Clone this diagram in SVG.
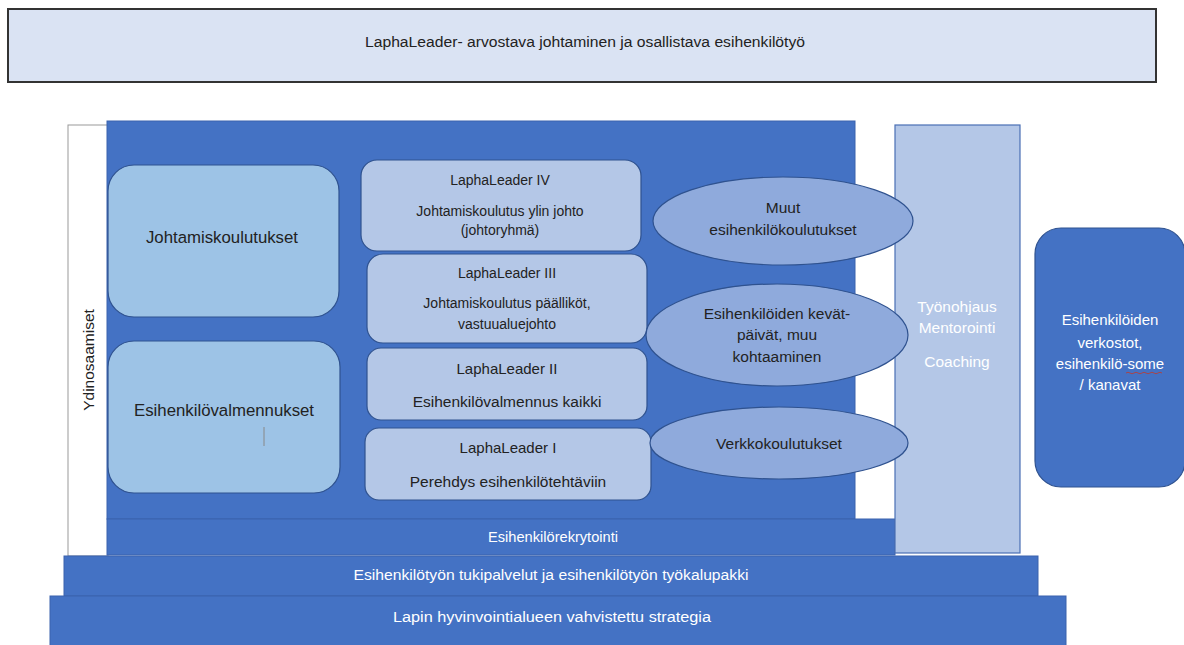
<svg xmlns="http://www.w3.org/2000/svg" width="1184" height="645" viewBox="0 0 1184 645">
<style>
text{font-family:"Liberation Sans","Open Sans",sans-serif;text-anchor:middle;dominant-baseline:central}
.dk{fill:#222}
.wt{fill:#ffffff}
.blue{fill:#4472c4;stroke:#3a62ad;stroke-width:1}
.lb{fill:#9dc3e6;stroke:#2f528f;stroke-width:1.2}
.pb{fill:#b4c7e7;stroke:#2f528f;stroke-width:1.2}
.el{fill:#8faadc;stroke:#2f528f;stroke-width:1.2}
.s13{font-size:13px}
.s14{font-size:14px}
.s15{font-size:15px}
.s155{font-size:15.5px}
.s168{font-size:16.8px}
</style>
<rect width="1184" height="645" fill="#ffffff"/>
<g id="title">
<rect x="8" y="9" width="1148" height="73" fill="#dae3f3" stroke="#333" stroke-width="2"/>
<text x="585" y="42" class="dk s14" textLength="440" lengthAdjust="spacingAndGlyphs">LaphaLeader- arvostava johtaminen ja osallistava esihenkilötyö</text>
</g>
<g id="ydinosaamiset">
<rect x="68" y="125" width="40" height="431" fill="#ffffff" stroke="#999" stroke-width="1"/>
<text transform="translate(88,360) rotate(-90)" class="dk s155">Ydinosaamiset</text>
</g>
<g id="main-block">
<rect x="107" y="121" width="748" height="398" class="blue"/>
</g>
<g id="rekrytointi">
<rect x="107" y="519" width="788" height="36" class="blue"/>
<text x="553" y="537" class="wt s14" textLength="130" lengthAdjust="spacingAndGlyphs">Esihenkilörekrytointi</text>
</g>
<g id="tukipalvelut">
<rect x="64" y="556" width="974" height="40" class="blue"/>
<text x="551" y="575" class="wt s14" textLength="395" lengthAdjust="spacingAndGlyphs">Esihenkilötyön tukipalvelut ja esihenkilötyön työkalupakki</text>
</g>
<g id="strategia">
<rect x="50" y="596" width="1016" height="50" class="blue"/>
<text x="552" y="617" class="wt s14" textLength="318" lengthAdjust="spacingAndGlyphs">Lapin hyvinvointialueen vahvistettu strategia</text>
</g>
<g id="tyonohjaus">
<rect x="895" y="125" width="125" height="428" fill="#b4c7e7" stroke="#4a6fb5" stroke-width="1.2"/>
<text x="957" y="306" class="wt s155">Työnohjaus</text>
<text x="957" y="327" class="wt s155">Mentorointi</text>
<text x="957" y="361" class="wt s155">Coaching</text>
</g>
<g id="verkostot">
<rect x="1035" y="228" width="150" height="259" rx="26" fill="#4472c4" stroke="#2f528f" stroke-width="1.2"/>
<text x="1110" y="319" class="wt s15">Esihenkilöiden</text>
<text x="1110" y="342" class="wt s15">verkostot,</text>
<text x="1110" y="363" class="wt s15">esihenkilö-some</text>
<text x="1110" y="384" class="wt s15">/ kanavat</text>
<path d="M1126 373 q2 -1.5 4 0 t4 0 t4 0 t4 0 t4 0 t4 0 t4 0 t4 0 t4 0" fill="none" stroke="#c0392b" stroke-width="0.8"/>
</g>
<g id="johtamiskoulutukset">
<rect x="108" y="165" width="231" height="152" rx="26" class="lb"/>
<text x="222" y="237" class="dk s168">Johtamiskoulutukset</text>
</g>
<g id="esihenkilovalmennukset">
<rect x="108" y="341" width="232" height="152" rx="26" class="lb"/>
<text x="224" y="410" class="dk s168">Esihenkilövalmennukset</text>
<line x1="264" y1="427" x2="264" y2="446" stroke="#888" stroke-width="1"/>
</g>
<g id="lapha4">
<rect x="361" y="160" width="280" height="91" rx="16" class="pb"/>
<text x="500" y="180" class="dk s14">LaphaLeader IV</text>
<text x="500" y="211" class="dk s14">Johtamiskoulutus ylin johto</text>
<text x="500" y="230" class="dk s14">(johtoryhmä)</text>
</g>
<g id="lapha3">
<rect x="367" y="254" width="280" height="89" rx="16" class="pb"/>
<text x="507" y="273" class="dk s14">LaphaLeader III</text>
<text x="507" y="303" class="dk s14">Johtamiskoulutus päälliköt,</text>
<text x="507" y="324" class="dk s14">vastuualuejohto</text>
</g>
<g id="lapha2">
<rect x="367" y="348" width="280" height="72" rx="14" class="pb"/>
<text x="507" y="368" class="dk s15">LaphaLeader II</text>
<text x="507" y="401" class="dk s155">Esihenkilövalmennus kaikki</text>
</g>
<g id="lapha1">
<rect x="365" y="428" width="286" height="72" rx="14" class="pb"/>
<text x="508" y="447" class="dk s15">LaphaLeader I</text>
<text x="508" y="481" class="dk s155">Perehdys esihenkilötehtäviin</text>
</g>
<g id="muut">
<ellipse cx="783" cy="221" rx="130" ry="44" class="el"/>
<text x="783" y="207" class="dk s155">Muut</text>
<text x="783" y="229" class="dk s155">esihenkilökoulutukset</text>
</g>
<g id="kevatpaivat">
<ellipse cx="777" cy="335" rx="131" ry="51" class="el"/>
<text x="777" y="313" class="dk s155">Esihenkilöiden kevät-</text>
<text x="777" y="334" class="dk s155">päivät, muu</text>
<text x="777" y="356" class="dk s155">kohtaaminen</text>
</g>
<g id="verkkokoulutukset">
<ellipse cx="779" cy="443" rx="129" ry="36" class="el"/>
<text x="779" y="443" class="dk s155">Verkkokoulutukset</text>
</g>
<g id="connectors"></g>
</svg>
